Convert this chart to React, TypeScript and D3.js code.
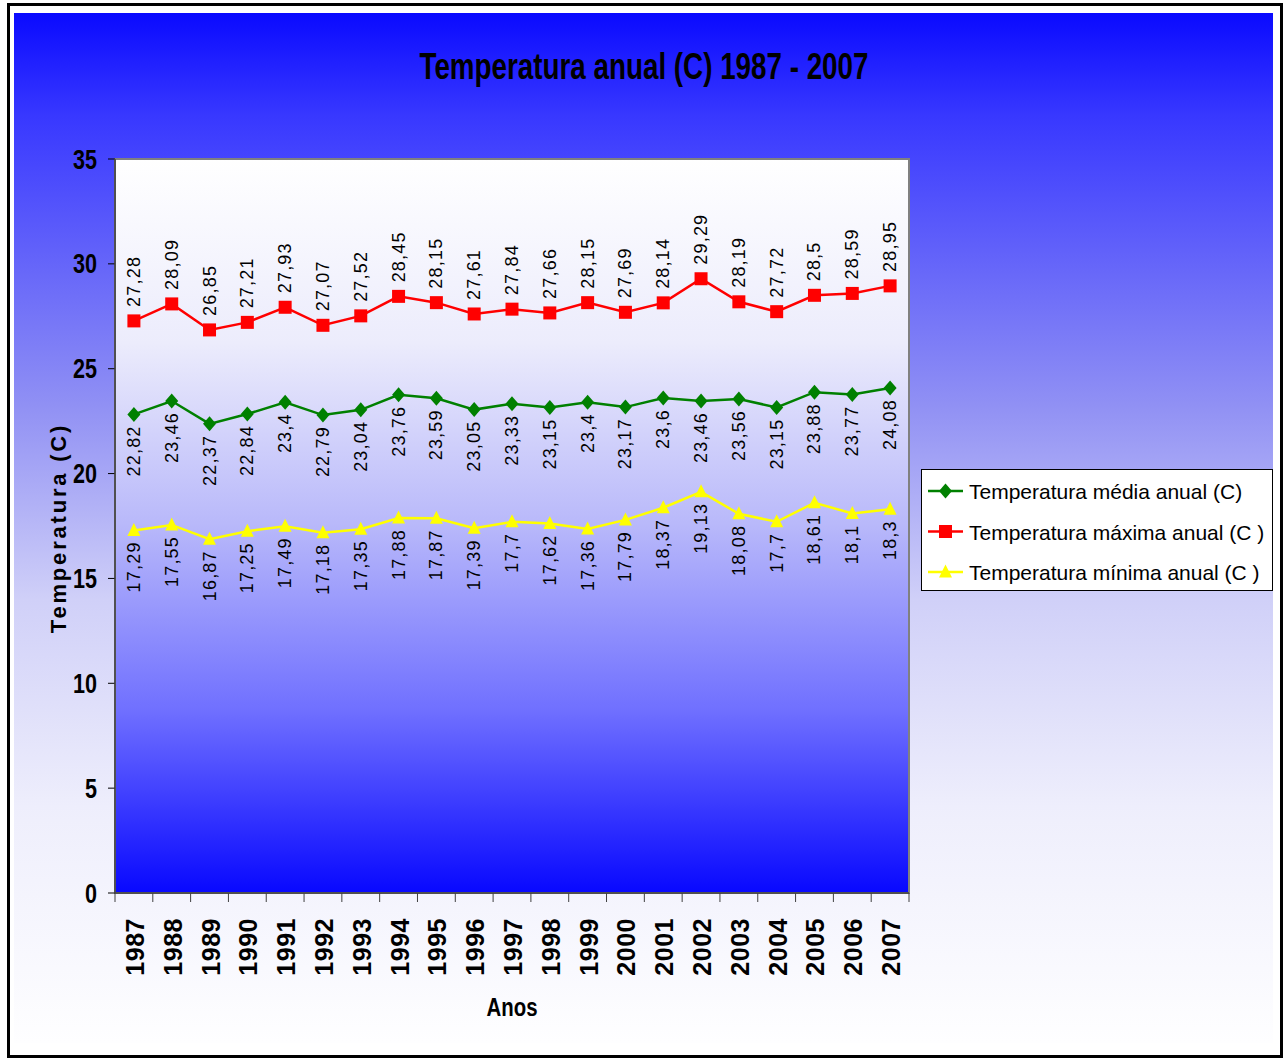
import React from "react";
import * as d3 from "d3";

const years = ["1987","1988","1989","1990","1991","1992","1993","1994","1995","1996","1997","1998","1999","2000","2001","2002","2003","2004","2005","2006","2007"];
const mediaValues = [22.82, 23.46, 22.37, 22.84, 23.4, 22.79, 23.04, 23.76, 23.59, 23.05, 23.33, 23.15, 23.4, 23.17, 23.6, 23.46, 23.56, 23.15, 23.88, 23.77, 24.08];
const maximaValues = [27.28, 28.09, 26.85, 27.21, 27.93, 27.07, 27.52, 28.45, 28.15, 27.61, 27.84, 27.66, 28.15, 27.69, 28.14, 29.29, 28.19, 27.72, 28.5, 28.59, 28.95];
const minimaValues = [17.29, 17.55, 16.87, 17.25, 17.49, 17.18, 17.35, 17.88, 17.87, 17.39, 17.7, 17.62, 17.36, 17.79, 18.37, 19.13, 18.08, 17.7, 18.61, 18.1, 18.3];
const yTicks = [0, 5, 10, 15, 20, 25, 30, 35];
const seriesNames = ["Temperatura média anual (C)", "Temperatura máxima anual (C )", "Temperatura mínima anual (C )"];
const title = "Temperatura anual (C) 1987 - 2007";

const W = 1288, H = 1059;
const plot = { left: 115, right: 909, top: 159, bottom: 893 };
const FONT = "'Liberation Sans', Arial, sans-serif";

type Series = { name: string; values: number[]; color: string; marker: "diamond" | "square" | "triangle"; labelPos: "above" | "below" };
const series: Series[] = [
  { name: seriesNames[0], values: mediaValues, color: "#008000", marker: "diamond", labelPos: "below" },
  { name: seriesNames[1], values: maximaValues, color: "#ff0000", marker: "square", labelPos: "above" },
  { name: seriesNames[2], values: minimaValues, color: "#ffff00", marker: "triangle", labelPos: "below" },
];

function Marker({ type, x, y, color }: { type: string; x: number; y: number; color: string }) {
  if (type === "square") return <rect x={x - 6.5} y={y - 6.5} width={13} height={13} fill={color} />;
  if (type === "diamond") return <path d={`M${x},${y - 7.5}L${x + 6.5},${y}L${x},${y + 7.5}L${x - 6.5},${y}Z`} fill={color} />;
  return <path d={`M${x},${y - 7.5}L${x + 6.5},${y + 5.5}L${x - 6.5},${y + 5.5}Z`} fill={color} />;
}

export default function App() {
  const x = d3.scaleBand<string>().domain(years).range([plot.left, plot.right]);
  const y = d3.scaleLinear().domain([0, 35]).range([plot.bottom, plot.top]);
  const cx = (yr: string) => (x(yr) as number) + x.bandwidth() / 2;
  const line = d3.line<number>().x((_, i) => cx(years[i])).y((v) => y(v));
  const fmt = (v: number) => String(v).replace(".", ",");

  return (
    <svg width={W} height={H} style={{ display: "block", position: "absolute", left: 0, top: 0 }}>
      <defs>
        <linearGradient id="bgGrad" x1="0" y1="0" x2="0" y2="1">
          <stop offset="0" stopColor="#0a0aff" />
          <stop offset="0.1" stopColor="#3838ff" />
          <stop offset="0.38" stopColor="#9090f4" />
          <stop offset="0.57" stopColor="#d0d0f8" />
          <stop offset="0.77" stopColor="#eeeefc" />
          <stop offset="1" stopColor="#fefeff" />
        </linearGradient>
        <linearGradient id="plotGrad" x1="0" y1="0" x2="0" y2="1">
          <stop offset="0" stopColor="#ffffff" />
          <stop offset="0.25" stopColor="#ececfc" />
          <stop offset="0.5" stopColor="#b8b8fa" />
          <stop offset="0.75" stopColor="#7070ff" />
          <stop offset="1" stopColor="#0808ff" />
        </linearGradient>
      </defs>
      <rect x={0} y={0} width={W} height={H} fill="#ffffff" />
      <rect x={14} y={13} width={1259} height={1030} fill="url(#bgGrad)" />
      <rect x={8.5} y={4.5} width={1273} height={1052} fill="none" stroke="#000" strokeWidth={3} />

      <text x={644} y={79} textAnchor="middle" fontFamily={FONT} fontWeight="bold" fontSize={36} textLength={449} lengthAdjust="spacingAndGlyphs">{title}</text>

      <rect x={plot.left} y={plot.top} width={plot.right - plot.left} height={plot.bottom - plot.top} fill="url(#plotGrad)" stroke="#808080" strokeWidth={2} />

      {yTicks.map((t) => (
        <g key={t}>
          <line x1={plot.left - 7} x2={plot.left} y1={y(t)} y2={y(t)} stroke="#000" strokeWidth={1} />
          <g transform={`translate(97,${y(t) + 9.5}) scale(0.8,1)`}>
            <text textAnchor="end" fontFamily={FONT} fontWeight="bold" fontSize={27}>{t}</text>
          </g>
        </g>
      ))}
      <line x1={plot.left} x2={plot.left} y1={plot.top} y2={plot.bottom} stroke="#404040" strokeWidth={1.5} />
      <line x1={plot.left} x2={plot.right} y1={plot.bottom} y2={plot.bottom} stroke="#404040" strokeWidth={1.5} />
      {years.map((yr) => (
        <line key={"t" + yr} x1={x(yr) as number} x2={x(yr) as number} y1={plot.bottom} y2={plot.bottom + 9} stroke="#404040" strokeWidth={1} />
      ))}
      <line x1={plot.right} x2={plot.right} y1={plot.bottom} y2={plot.bottom + 9} stroke="#404040" strokeWidth={1} />
      {years.map((yr) => (
        <text key={"yl" + yr} transform={`translate(${cx(yr) + 10},${918}) rotate(-90)`} textAnchor="end" fontFamily={FONT} fontWeight="bold" fontSize={25} letterSpacing={0.5}>{yr}</text>
      ))}

      <text transform={`translate(66,528) rotate(-90)`} textAnchor="middle" fontFamily={FONT} fontWeight="bold" fontSize={22} letterSpacing={2.8}>Temperatura (C)</text>
      <text x={512} y={1016} textAnchor="middle" fontFamily={FONT} fontWeight="bold" fontSize={26} textLength={51} lengthAdjust="spacingAndGlyphs">Anos</text>

      {series.map((s) => (
        <g key={s.name}>
          <path d={line(s.values) || ""} fill="none" stroke={s.color} strokeWidth={2.5} />
          {s.values.map((v, i) => (
            <Marker key={i} type={s.marker} x={cx(years[i])} y={y(v)} color={s.color} />
          ))}
          {s.values.map((v, i) => (
            <text
              key={"l" + i}
              transform={`translate(${cx(years[i]) + 6},${s.labelPos === "above" ? y(v) - 14 : y(v) + 11}) rotate(-90)`}
              textAnchor={s.labelPos === "above" ? "start" : "end"}
              fontFamily={FONT}
              fontSize={18}
              letterSpacing={1.2}
              fill="#000"
            >{fmt(v)}</text>
          ))}
        </g>
      ))}

      <rect x={921.5} y={469.5} width={351} height={121} fill="#ffffff" stroke="#000" strokeWidth={1} />
      {series.map((s, i) => {
        const ly = 491 + i * 40.5;
        return (
          <g key={"lg" + i}>
            <line x1={928} x2={963} y1={ly} y2={ly} stroke={s.color} strokeWidth={2.5} />
            <Marker type={s.marker} x={945.5} y={ly} color={s.color} />
            <text x={969} y={ly + 8} fontFamily={FONT} fontSize={21} fill="#000">{s.name}</text>
          </g>
        );
      })}
    </svg>
  );
}
